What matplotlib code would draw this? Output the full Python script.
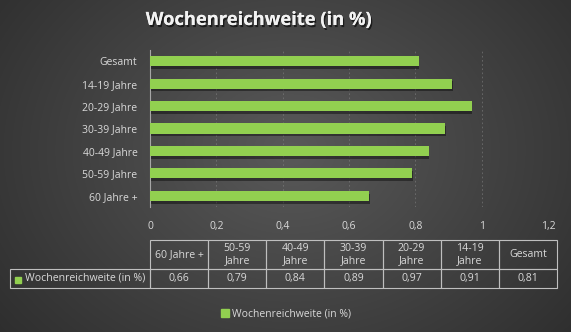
import numpy as np
import matplotlib
matplotlib.use("Agg")
import matplotlib.pyplot as plt
import matplotlib.patheffects as pe
from matplotlib.patches import Rectangle

# data (bottom to top, same order as the table columns)
categories = ["60 Jahre +", "50-59 Jahre", "40-49 Jahre", "30-39 Jahre",
              "20-29 Jahre", "14-19 Jahre", "Gesamt"]
values = [0.66, 0.79, 0.84, 0.89, 0.97, 0.91, 0.81]
series_name = "Wochenreichweite (in %)"
xticks = [0, 0.2, 0.4, 0.6, 0.8, 1.0, 1.2]

GREEN = "#92d050"
TXT = "#d9d9d9"
LINE = "#a6a6a6"

plt.rcParams["font.family"] = ["Open Sans", "DejaVu Sans"]


def de_num(v):
    s = f"{v:g}"
    return s.replace(".", ",")


def main():
    W, H = 571, 332
    fig = plt.figure(figsize=(W / 100, H / 100), dpi=100)

    # radial gradient background
    bg = fig.add_axes([0, 0, 1, 1], zorder=-10)
    yy, xx = np.mgrid[0:H, 0:W]
    r = np.sqrt(((xx - 290) / 330.0) ** 2 + ((yy - 150) / 260.0) ** 2)
    shade = np.clip(0.35 - 0.15 * r, 0.17, 0.35)
    bg.imshow(np.dstack([shade] * 3), aspect="auto", extent=[0, 1, 0, 1])
    bg.axis("off")

    ax = fig.add_axes([150 / W, 1 - 207 / H, 398 / W, 157 / H])
    ax.patch.set_alpha(0)
    y = np.arange(len(categories))
    bars = ax.barh(y, values, height=0.45, color=GREEN, zorder=3)
    for b in bars:
        b.set_path_effects([pe.withSimplePatchShadow(offset=(0.5, -2), shadow_rgbFace="black", alpha=0.4),
                            pe.Normal()])
    ax.set_xlim(0, 1.2)
    ax.set_ylim(-0.5, len(categories) - 0.5)
    ax.set_xticks(xticks)
    ax.set_xticklabels([de_num(t) for t in xticks])
    ax.set_yticks(y)
    ax.set_yticklabels(categories)
    ax.tick_params(length=0, colors=TXT, labelsize=7.5)
    ax.tick_params(axis="x", pad=10)
    ax.tick_params(axis="y", pad=9)
    for s in ["top", "right", "bottom"]:
        ax.spines[s].set_visible(False)
    ax.spines["left"].set_color(LINE)
    ax.spines["left"].set_linewidth(0.8)
    for t in xticks[1:]:
        ax.axvline(t, color="#7f7f7f", lw=0.6, ls=(0, (2, 3)), alpha=0.7, zorder=1)

    fig.text(259 / W, 1 - 20 / H, series_name, ha="center", va="center",
             fontsize=13.2, fontweight="bold", color="#f2f2f2",
             path_effects=[pe.withSimplePatchShadow(offset=(1, -1.5), shadow_rgbFace="black", alpha=0.6),
                           pe.Normal()])

    # data table
    tax = fig.add_axes([10 / W, 1 - 288 / H, 547 / W, 48 / H])
    tax.axis("off")
    headers = [c if c == "60 Jahre +" else c.replace(" Jahre", "\nJahre") for c in categories]
    cells = [[""] + headers, [series_name] + [de_num(v) for v in values]]
    tbl = tax.table(cellText=cells, cellLoc="center", bbox=[0, 0, 1, 1])
    tbl.auto_set_font_size(False)
    for (r_, c_), cell in tbl.get_celld().items():
        cell.set_facecolor("none")
        cell.set_edgecolor("#bfbfbf")
        cell.set_linewidth(0.8)
        cell.set_width(140 if c_ == 0 else 58.1)
        cell.set_height(29 if r_ == 0 else 19)
        cell.get_text().set_color(TXT)
        cell.get_text().set_fontsize(7.6)
        cell.get_text().set_linespacing(1.15)
        if r_ == 0 and c_ == 0:
            cell.visible_edges = ""
        if r_ == 1 and c_ == 0:
            cell.get_text().set_ha("left")
            cell._loc = "left"
            cell.PAD = 0.11
    tax.add_patch(Rectangle((5 / 547, 5 / 48), 6 / 547, 6 / 48, color=GREEN,
                            transform=tax.transAxes, zorder=5))

    handle = Rectangle((0, 0), 1, 1, color=GREEN)
    fig.legend([handle], [series_name], loc="center", bbox_to_anchor=(286 / W, 1 - 314 / H),
               frameon=False, fontsize=7.5, labelcolor=TXT, handlelength=0.7,
               handleheight=0.7, handletextpad=0.3)

    fig.savefig("out.png", dpi=100)


if __name__ == "__main__":
    main()
